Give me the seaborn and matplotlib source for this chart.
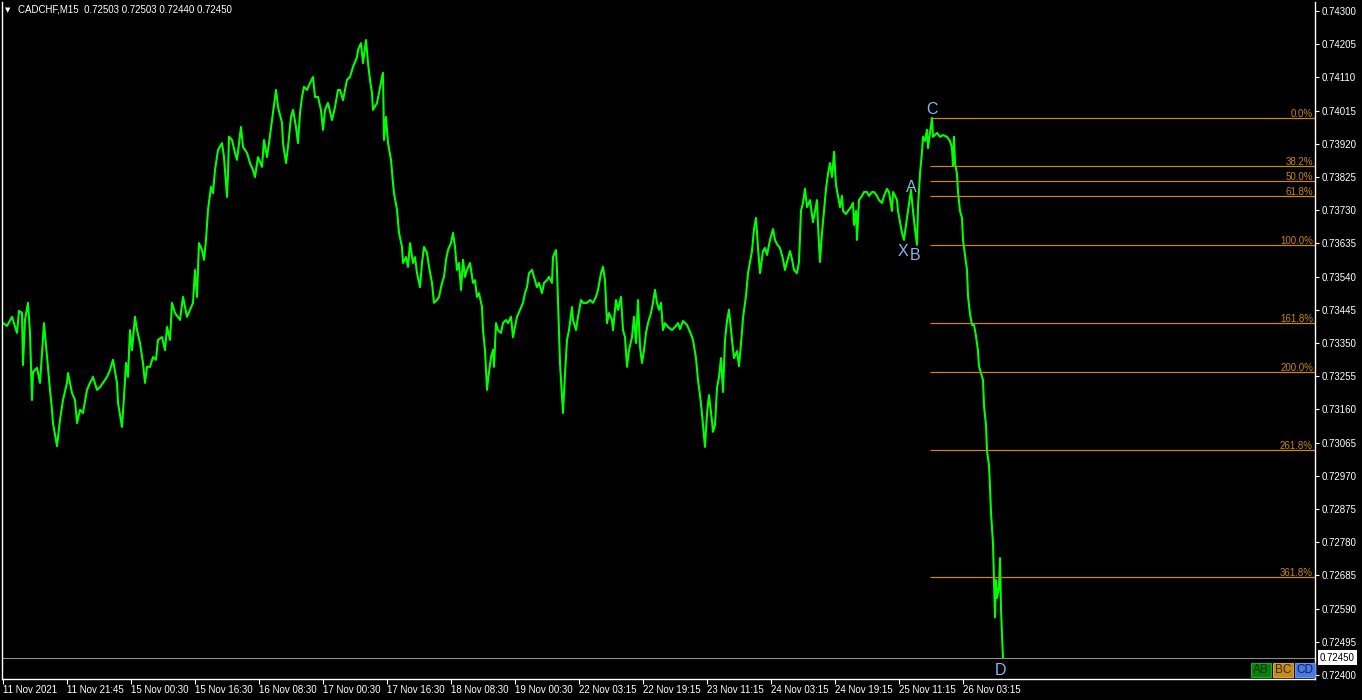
import pandas as pd
import matplotlib
matplotlib.use('Agg')
import matplotlib.pyplot as plt
import seaborn as sns
from matplotlib.patches import Rectangle

# Header of the MT4 chart window
symbol = 'CADCHF,M15'
last_ohlc = ['0.72503', '0.72503', '0.72440', '0.72450']

# Close prices (bar index = one M15 bar per pixel)
bars_a = [0, 4, 9, 14, 16, 19, 20, 22, 25, 27, 29, 30, 34, 37, 40, 41, 44, 47, 49, 50,
          54, 57, 60, 64, 65, 69, 72, 74, 77, 80, 84, 87, 90, 94, 97, 100, 104, 107, 110, 114,
          115, 119, 121, 123, 125, 127, 129, 132, 134, 137, 140, 142, 144, 147, 150, 153, 155, 159, 162, 164,
          167, 169, 172, 177, 180, 184, 187, 190, 192, 194, 196, 199, 201, 203, 205, 208, 210, 212, 215, 219,
          221, 224, 225, 226, 229, 232, 234, 238, 240, 244, 247, 250, 252, 255, 259, 261, 264, 266, 269, 270,
          273, 275, 279, 280, 283, 285, 288, 290, 293, 295, 297, 299, 301, 304, 307, 310, 312, 315, 318, 320,
          322, 325, 329, 332, 335]
close_a = [0.73407, 0.73399, 0.73425, 0.73379, 0.73442, 0.73436, 0.73287, 0.73416, 0.73465, 0.73379,
           0.73187, 0.73267, 0.73279, 0.73236, 0.73367, 0.73407, 0.73310, 0.73216, 0.73159, 0.73121,
           0.73055, 0.73130, 0.73187, 0.73236, 0.73264, 0.73207, 0.73187, 0.73121, 0.73159, 0.73150,
           0.73216, 0.73236, 0.73253, 0.73216, 0.73224, 0.73236, 0.73253, 0.73273, 0.73302, 0.73236,
           0.73179, 0.73110, 0.73196, 0.73293, 0.73253, 0.73387, 0.73330, 0.73425, 0.73387, 0.73350,
           0.73293, 0.73236, 0.73282, 0.73282, 0.73310, 0.73302, 0.73359, 0.73367, 0.73330, 0.73396,
           0.73359, 0.73465, 0.73436, 0.73416, 0.73482, 0.73425, 0.73445, 0.73465, 0.73559, 0.73482,
           0.73636, 0.73616, 0.73588, 0.73645, 0.73731, 0.73797, 0.73779, 0.73845, 0.73902, 0.73922,
           0.73882, 0.73768, 0.73837, 0.73940, 0.73931, 0.73894, 0.73874, 0.73968, 0.73911, 0.73894,
           0.73865, 0.73845, 0.73825, 0.73882, 0.73854, 0.73931, 0.73882, 0.73922, 0.73988, 0.74008,
           0.74074, 0.74025, 0.73980, 0.73922, 0.73865, 0.73911, 0.73997, 0.74017, 0.73968, 0.73922,
           0.74008, 0.74054, 0.74083, 0.74074, 0.74094, 0.74111, 0.74054, 0.74054, 0.74017, 0.73960,
           0.74017, 0.74037, 0.73988, 0.74025, 0.74074]

bars_b = [337, 340, 344, 347, 350, 354, 355, 358, 360, 363, 365, 367, 369, 370, 374, 376, 379, 380, 381, 383,
          385, 388, 390, 391, 394, 396, 399, 400, 403, 405, 407, 410, 412, 414, 417, 419, 421, 424, 426, 429,
          431, 434, 436, 439, 441, 443, 445, 448, 450, 452, 454, 456, 458, 460, 462, 464, 467, 470, 472, 474,
          476, 479, 480, 482, 484, 485, 488, 490, 491, 493, 495, 498, 500, 503, 505, 508, 510, 512, 514, 517,
          520, 522, 524, 526, 529, 531, 534, 536, 539, 541, 544, 546, 549, 550, 553, 554, 556, 557, 559, 560,
          562, 564, 566, 569, 570, 573, 575, 578, 580, 584, 587, 590, 593, 595, 598, 600, 602, 604, 606, 609,
          610, 613, 615, 618, 620, 622, 624, 626, 629, 631, 633, 635, 637, 639, 641, 643, 645, 648, 650, 652,
          654, 656, 658, 660, 662, 665, 669, 672, 675]
close_b = [0.74074, 0.74045, 0.74103, 0.74111, 0.74140, 0.74168, 0.74188, 0.74208, 0.74151, 0.74217,
           0.74151, 0.74103, 0.74065, 0.74017, 0.74037, 0.74065, 0.74111, 0.74123, 0.73931, 0.73997,
           0.73922, 0.73874, 0.73808, 0.73779, 0.73731, 0.73665, 0.73625, 0.73579, 0.73596, 0.73568,
           0.73636, 0.73579, 0.73596, 0.73550, 0.73510, 0.73579, 0.73625, 0.73608, 0.73568, 0.73522,
           0.73465, 0.73473, 0.73482, 0.73522, 0.73539, 0.73588, 0.73616, 0.73636, 0.73665, 0.73625,
           0.73559, 0.73579, 0.73502, 0.73588, 0.73539, 0.73559, 0.73579, 0.73522, 0.73530, 0.73482,
           0.73493, 0.73453, 0.73387, 0.73330, 0.73216, 0.73244, 0.73310, 0.73330, 0.73282, 0.73407,
           0.73387, 0.73379, 0.73407, 0.73416, 0.73407, 0.73425, 0.73367, 0.73396, 0.73425, 0.73445,
           0.73465, 0.73493, 0.73510, 0.73550, 0.73559, 0.73539, 0.73510, 0.73522, 0.73493, 0.73522,
           0.73530, 0.73539, 0.73522, 0.73596, 0.73616, 0.73559, 0.73387, 0.73293, 0.73196, 0.73150,
           0.73264, 0.73359, 0.73387, 0.73453, 0.73416, 0.73387, 0.73425, 0.73473, 0.73465, 0.73465,
           0.73473, 0.73465, 0.73482, 0.73502, 0.73550, 0.73568, 0.73530, 0.73407, 0.73436, 0.73416,
           0.73387, 0.73473, 0.73445, 0.73482, 0.73387, 0.73367, 0.73282, 0.73330, 0.73367, 0.73425,
           0.73350, 0.73473, 0.73339, 0.73293, 0.73330, 0.73379, 0.73407, 0.73436, 0.73465, 0.73502,
           0.73465, 0.73445, 0.73465, 0.73387, 0.73407, 0.73396, 0.73387, 0.73396, 0.73407]

bars_c = [677, 680, 684, 687, 690, 693, 695, 697, 699, 700, 702, 704, 706, 709, 710, 712, 714, 716, 718, 720,
          722, 724, 726, 729, 731, 734, 736, 739, 740, 743, 745, 747, 749, 751, 753, 755, 757, 760, 762, 764,
          767, 770, 772, 774, 777, 780, 782, 784, 787, 789, 791, 794, 796, 798, 800, 802, 804, 807, 810, 812,
          814, 815, 817, 819, 821, 823, 825, 827, 829, 830, 831, 833, 835, 837, 839, 840, 843, 845, 848, 850,
          851, 853, 854, 856, 859, 861, 864, 866, 869, 871, 874, 876, 879, 881, 884, 886, 889, 890, 892, 894,
          895, 897, 899, 901, 903, 905, 908, 910, 912, 914, 915, 917, 919, 920, 922, 924, 925, 927, 929, 930,
          934, 937, 940, 944, 947, 949, 950, 951, 952, 954, 955, 957, 959, 960, 962, 964, 965, 967, 969, 971,
          973, 975, 976, 978, 980, 981, 983, 984, 986, 987, 988, 990, 991, 992, 993, 994, 996, 997, 998, 999,
          1000]
close_c = [0.73390, 0.73413, 0.73402, 0.73382, 0.73359, 0.73307, 0.73244, 0.73201, 0.73147, 0.73116,
           0.73053, 0.73147, 0.73201, 0.73127, 0.73096, 0.73116, 0.73221, 0.73253, 0.73307, 0.73210,
           0.73359, 0.73413, 0.73445, 0.73359, 0.73307, 0.73327, 0.73284, 0.73382, 0.73422, 0.73485,
           0.73550, 0.73582, 0.73613, 0.73676, 0.73708, 0.73622, 0.73550, 0.73613, 0.73622, 0.73602,
           0.73645, 0.73676, 0.73645, 0.73633, 0.73622, 0.73590, 0.73559, 0.73582, 0.73613, 0.73590,
           0.73559, 0.73550, 0.73582, 0.73728, 0.73751, 0.73791, 0.73739, 0.73759, 0.73696, 0.73728,
           0.73759, 0.73688, 0.73582, 0.73665, 0.73728, 0.73791, 0.73834, 0.73865, 0.73825, 0.73857,
           0.73897, 0.73802, 0.73771, 0.73739, 0.73771, 0.73728, 0.73719, 0.73728, 0.73739, 0.73751,
           0.73688, 0.73728, 0.73645, 0.73759, 0.73771, 0.73782, 0.73782, 0.73771, 0.73782, 0.73782,
           0.73771, 0.73759, 0.73751, 0.73771, 0.73791, 0.73782, 0.73728, 0.73782, 0.73771, 0.73759,
           0.73728, 0.73696, 0.73665, 0.73645, 0.73688, 0.73728, 0.73788, 0.73728, 0.73676, 0.73631,
           0.73739, 0.73834, 0.73897, 0.73940, 0.73928, 0.73960, 0.73908, 0.73951, 0.73994, 0.73940,
           0.73951, 0.73940, 0.73945, 0.73940, 0.73928, 0.73908, 0.73857, 0.73940, 0.73865, 0.73834,
           0.73782, 0.73728, 0.73708, 0.73645, 0.73602, 0.73559, 0.73485, 0.73433, 0.73402, 0.73402,
           0.73370, 0.73327, 0.73284, 0.73264, 0.73244, 0.73170, 0.73116, 0.73041, 0.73001, 0.72938,
           0.72864, 0.72778, 0.72672, 0.72566, 0.72672, 0.72621, 0.72652, 0.72735, 0.72589, 0.72515,
           0.72450]

# Time axis labels (every 64 bars)
time_ticks = [0, 64, 128, 192, 256, 320, 384, 448, 512, 576, 640, 704, 768, 832, 896, 960]
time_labels = ['11 Nov 2021', '11 Nov 21:45', '15 Nov 00:30', '15 Nov 16:30', '16 Nov 08:30',
               '17 Nov 00:30', '17 Nov 16:30', '18 Nov 08:30', '19 Nov 00:30', '22 Nov 03:15',
               '22 Nov 19:15', '23 Nov 11:15', '24 Nov 03:15', '24 Nov 19:15', '25 Nov 11:15',
               '26 Nov 03:15']
price_ticks = [0.72400, 0.72495, 0.72590, 0.72685, 0.72780, 0.72875, 0.72970, 0.73065, 0.73160,
               0.73255, 0.73350, 0.73445, 0.73540, 0.73635, 0.73730, 0.73825, 0.73920, 0.74015,
               0.74110, 0.74205, 0.74300]

# XABCD pattern points
pattern_names = ['X', 'A', 'B', 'C', 'D']
pattern_bars = [901, 908, 914, 929, 1000]
pattern_prices = [0.73645, 0.73780, 0.73631, 0.73994, 0.72450]

# Fibonacci levels drawn from C (0%) to B (100%)
fib_ratios = [0.0, 38.2, 50.0, 61.8, 100.0, 161.8, 200.0, 261.8, 361.8]
fib_start_bar = 927
fib_high = 0.73994
fib_low = 0.73631

W, H = 1362, 700
sns.set_style('dark', {'axes.facecolor': 'black', 'figure.facecolor': 'black'})
plt.rcParams['font.family'] = ['Liberation Sans', 'DejaVu Sans']

fig = plt.figure(figsize=(W / 100, H / 100), dpi=100, facecolor='black')
ax = fig.add_axes([2 / W, 21 / H, 1313 / W, 677 / H])
ax.set_facecolor('black')

df = pd.DataFrame({'bar': bars_a + bars_b + bars_c, 'close': close_a + close_b + close_c})
sns.lineplot(data=df, x='bar', y='close', color='#00ff00', linewidth=1.5,
             estimator=None, ax=ax)

x_right = 1312
ax.set_xlim(-1, x_right)
ax.set_ylim(0.723889, 0.743257)

# fibo levels
fib_color = '#c8870e'
for r in fib_ratios:
    lvl = fib_high - r / 100 * (fib_high - fib_low)
    ax.hlines(lvl, fib_start_bar, x_right, color=fib_color, linewidth=0.9)
    ax.annotate(f'{r:.1f}%', xy=(1, lvl), xycoords=('axes fraction', 'data'),
                xytext=(-2, -1), textcoords='offset pixels', ha='right', va='bottom',
                color=fib_color, fontsize=7)

# current price line + label
last = df['close'].iloc[-1]
ax.axhline(last, color='#8c8c8c', linewidth=0.8)
ax.annotate(f'{last:.5f}', xy=(1, last), xycoords=('axes fraction', 'data'),
            xytext=(5, 0), textcoords='offset pixels', ha='left', va='center',
            color='black', fontsize=7, annotation_clip=False,
            bbox=dict(boxstyle='square,pad=0.25', fc='white', ec='none'))

# pattern labels
label_offsets = {'X': (-1, -4, 'top'), 'A': (0, -2, 'bottom'), 'B': (-2, -3, 'top'),
                 'C': (0, 1, 'bottom'), 'D': (-2, -5, 'top')}
for name, b, p in zip(pattern_names, pattern_bars, pattern_prices):
    dx, dy, va = label_offsets[name]
    ax.annotate(name, xy=(b, p), xytext=(dx, dy), textcoords='offset pixels',
                ha='center', va=va, color='#88b8ea', fontsize=11.5, annotation_clip=False)

# axes look
for side in ['left', 'right', 'bottom']:
    ax.spines[side].set_visible(True)
    ax.spines[side].set_color('white')
    ax.spines[side].set_linewidth(1)
ax.spines['top'].set_visible(False)
ax.grid(False)

ax.set_xticks(time_ticks)
ax.set_xticklabels(time_labels, ha='left')
ax.set_yticks(price_ticks)
ax.set_yticklabels([f'{p:.5f}' for p in price_ticks])
ax.yaxis.tick_right()
ax.tick_params(axis='x', colors='white', labelsize=7, length=3.6, width=0.8,
               direction='out', pad=1, bottom=True)
ax.tick_params(axis='y', colors='white', labelsize=7, length=3, width=0.8,
               direction='out', pad=2, right=True, left=False)
ax.set_xlabel('')
ax.set_ylabel('')

# window header
fig.text(5 / W, 1 - 10 / H, '\u25bc', color='white', fontsize=5, va='center',
         family=['DejaVu Sans'])
fig.text(18 / W, 1 - 10 / H, symbol + '  ' + ' '.join(last_ohlc), color='white',
         fontsize=7, va='center')

# AB / BC / CD buttons at lower right
buttons = [('AB', 1251, '#0b800b', '#22a822', '#043804'),
           ('BC', 1273, '#c48c1a', '#dca434', '#3d2a00'),
           ('CD', 1295, '#4a78e0', '#6a94f0', '#0f1f5c')]
for txt, x0, fc, ec, tc in buttons:
    fig.add_artist(Rectangle((x0 / W, 1 - 677 / H), 20 / W, 14 / H, transform=fig.transFigure,
                             facecolor=fc, edgecolor=ec, linewidth=0.8))
    fig.text((x0 + 10) / W, 1 - 670 / H, txt, color=tc, fontsize=8.5,
             ha='center', va='center')

plt.savefig('out.png', dpi=100, facecolor='black')
